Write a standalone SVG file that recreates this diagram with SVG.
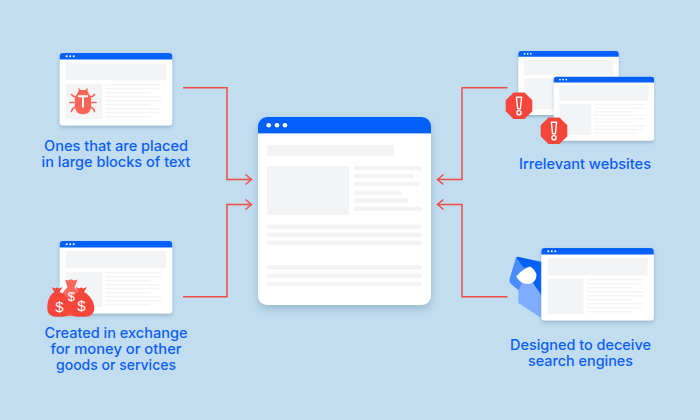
<svg xmlns="http://www.w3.org/2000/svg" width="700" height="420" viewBox="0 0 700 420">
<style>
.bg{fill:#c2ddf0}
.page{fill:#fff}
.bar{fill:#0460fb}
.blk{fill:#f3f4f6}
.ln{fill:#f3f4f6}
.sl{fill:#f4f5f7}
.dot{fill:#fff}
.red{fill:#f6453a}
.lbl{font-family:"Inter","Liberation Sans",sans-serif;font-size:14px;font-weight:500;fill:#0b60fa;text-anchor:middle}
.dol{font-family:"Liberation Sans",sans-serif;font-weight:400;font-size:15px;fill:#fff;text-anchor:middle}
.conn{fill:none;stroke:#ee4d42;stroke-width:1.5}
</style>
<defs>
<filter id="sh" x="-15%" y="-15%" width="130%" height="135%"><feDropShadow dx="0" dy="2" stdDeviation="2" flood-color="#5a7f9c" flood-opacity=".45"/></filter>
<filter id="shb" x="-15%" y="-15%" width="130%" height="135%"><feDropShadow dx="0" dy="4" stdDeviation="5" flood-color="#5a7f9c" flood-opacity=".4"/></filter>
<g id="win">
<rect class="page" x="0" y="0" width="112.5" height="72.5" rx="3" filter="url(#sh)"/>
<path class="bar" d="M0 6.5V3a3 3 0 0 1 3-3H109.500a3 3 0 0 1 3 3V6.500Z"/>
<circle class="dot" cx="7" cy="3.200" r="1"/><circle class="dot" cx="10.500" cy="3.200" r="1"/><circle class="dot" cx="14" cy="3.200" r="1"/>
<rect class="blk" x="6.300" y="10" width="100" height="17.300"/>
<rect class="blk" x="6.300" y="31" width="36" height="35"/>
<rect class="sl" x="45.500" y="31" width="56" height="1.500"/>
<rect class="sl" x="45.500" y="35" width="56" height="1.500"/>
<rect class="sl" x="45.500" y="39" width="45" height="1.500"/>
<rect class="sl" x="45.500" y="43" width="56" height="1.500"/>
<rect class="sl" x="45.500" y="47" width="56" height="1.500"/>
<rect class="sl" x="45.500" y="51" width="45" height="1.500"/>
<rect class="sl" x="45.500" y="55" width="56" height="1.500"/>
<rect class="sl" x="45.500" y="59" width="56" height="1.500"/>
<rect class="sl" x="45.500" y="63" width="45" height="1.500"/>
</g>
<polygon id="oct" class="red" points="-5.500,-13.300 5.500,-13.300 13.300,-5.500 13.300,5.500 5.500,13.300 -5.500,13.300 -13.300,5.500 -13.300,-5.500"/>
<g id="exc">
<use href="#oct"/>
<path d="M-2.600 -8.500h5.200l-1.200 11.500h-2.800Z" fill="none" stroke="#fff" stroke-width="1.400" stroke-linejoin="round"/>
<circle cx="0" cy="7" r="2.100" fill="none" stroke="#fff" stroke-width="1.400"/>
</g>
<path id="head" d="M-6 -5L0 0L-6 5" fill="none" stroke="#ee4d42" stroke-width="1.500"/>
</defs>

<rect class="bg" width="700" height="420"/>

<g id="connectors">
<path class="conn" d="M183 87.700H227V179.500H251"/><use href="#head" transform="translate(251.500 179.500)"/>
<path class="conn" d="M183 296.700H227V204.500H251"/><use href="#head" transform="translate(251.500 204.500)"/>
<path class="conn" d="M507.500 87.700H462V179.500H438"/><use href="#head" transform="translate(437.500 179.500) scale(-1 1)"/>
<path class="conn" d="M507.500 296.700H462V204.500H438"/><use href="#head" transform="translate(437.500 204.500) scale(-1 1)"/>
</g>

<g id="main">
<rect class="page" x="258" y="117" width="173" height="188" rx="9" filter="url(#shb)"/>
<path class="bar" d="M258 133.300V126a9 9 0 0 1 9-9H422a9 9 0 0 1 9 9V133.300Z"/>
<rect x="258" y="133.300" width="173" height="0.700" fill="#8db6f8"/>
<circle class="dot" cx="268.700" cy="125.300" r="2.300"/><circle class="dot" cx="277" cy="125.300" r="2.300"/><circle class="dot" cx="285" cy="125.300" r="2.300"/>
<rect class="blk" x="267" y="145" width="127" height="11" rx="1"/>
<rect class="blk" x="267" y="166" width="82" height="49" rx="1"/>
<rect class="ln" x="353.700" y="166" width="68" height="4.200" rx="1.500"/>
<rect class="ln" x="353.700" y="174" width="60.300" height="4.200" rx="1.500"/>
<rect class="ln" x="353.700" y="182" width="65" height="4.200" rx="1.500"/>
<rect class="ln" x="353.700" y="190.500" width="48" height="4.200" rx="1.500"/>
<rect class="ln" x="353.700" y="198.500" width="55" height="4.200" rx="1.500"/>
<rect class="ln" x="353.700" y="206.800" width="68" height="4.200" rx="1.500"/>
<rect class="ln" x="267" y="224.500" width="154.700" height="4.200" rx="1.500"/>
<rect class="ln" x="267" y="232.700" width="154.700" height="4.200" rx="1.500"/>
<rect class="ln" x="267" y="240.800" width="154.700" height="4.200" rx="1.500"/>
<rect class="ln" x="267" y="265.200" width="154.700" height="4.200" rx="1.500"/>
<rect class="ln" x="267" y="273.500" width="154.700" height="4.200" rx="1.500"/>
<rect class="ln" x="267" y="281.700" width="154.700" height="4.200" rx="1.500"/>
</g>

<g id="node-bug">
<use href="#win" x="59.700" y="53"/>
<g fill="none" stroke="#fb6557" stroke-width="1.600" stroke-linecap="round">
<path d="M76 97Q73 97 71.500 94.500M90 97Q93 97 94.500 94.500M74 102.500H70M92 102.500H96M76 107Q72 108 71.500 111.500M90 107Q94 108 94.500 111.500"/>
</g>
<path d="M77 94L78.500 91L78.500 87.700L80.800 90H85.200L87.500 87.700L87.500 91L89 94Z" fill="#fb6557"/>
<path d="M74.800 99Q74.800 93.500 80 93.500H86Q91.200 93.500 91.200 99V105Q91.200 114.300 83 114.300Q74.800 114.300 74.800 105Z" fill="#fb6557"/>
<path d="M78 95.300H88V97.200H84V107.500H82V97.200H78Z" fill="#fff"/>
<text class="lbl" x="116" y="150.500" textLength="144" lengthAdjust="spacingAndGlyphs">Ones that are placed</text>
<text class="lbl" x="116" y="166.700" textLength="149" lengthAdjust="spacingAndGlyphs">in large blocks of text</text>
</g>

<g id="node-money">
<use href="#win" x="59.700" y="241"/>
<path d="M65 279.500L68 280.500L71 279.300L74 280.500L77.500 279.500L74.500 287.500Q85 296 83 316H59Q57 296 67.500 287.500Z" fill="#f9695d"/>
<path class="red" d="M51.500 287L55 288.500L57 287.500L59 288.500L62.500 287L59.500 292C66 294 72 302 72 308C72 314 68 316.700 62 316.700H56C51 316.700 47.300 314 47.300 308C47.300 302 49 295 54.500 292Z"/>
<path class="red" d="M75.500 287L79 288.500L81.300 287.500L83.500 288.500L87 287L84 292C90 295 94.300 302 94.300 308C94.300 314 90 316.700 85 316.700H78C72 316.700 69 314 69 308C69 302 72.500 295 78.500 292Z"/>
<text class="dol" x="59.500" y="311.500">$</text>
<text class="dol" x="81.500" y="311">$</text>
<text class="dol" x="71.300" y="301" style="font-size:13px">$</text>
<text class="lbl" x="116" y="338" textLength="143" lengthAdjust="spacingAndGlyphs">Created in exchange</text>
<text class="lbl" x="116" y="354.300" textLength="131" lengthAdjust="spacingAndGlyphs">for money or other</text>
<text class="lbl" x="116" y="370.300" textLength="120" lengthAdjust="spacingAndGlyphs">goods or services</text>
</g>

<g id="node-irrelevant">
<use href="#win" transform="translate(518.300 51) scale(.893 .883)"/>
<use href="#win" transform="translate(553.700 76.700) scale(.893 .883)"/>
<use href="#exc" x="519" y="105.700"/>
<use href="#exc" x="554" y="130.700"/>
<text class="lbl" x="585" y="169" textLength="132" lengthAdjust="spacingAndGlyphs">Irrelevant websites</text>
</g>

<g id="node-deceive">
<path d="M509.500 282L518.300 290V303L542 318.500V262L530 262Z" fill="#7fadfd"/>
<path d="M516 257.500Q517 256.500 519 257L542 262V296L531 280L524 270Z" fill="#0460fb"/>
<path d="M516 257.500L509.500 279Q509 282.500 511 284L518.500 290L522 283L516.500 277L530 266.500L524 268Z" fill="#4a8cfb"/>
<path d="M516.300 276.500Q522 269 530.300 266.500Q536.500 271 536.500 276Q535 284 527.500 284Q520.500 284 516.300 276.500Z" fill="#fff"/>
<use href="#win" x="541.300" y="248"/>
<text class="lbl" x="580.500" y="350.300" textLength="141" lengthAdjust="spacingAndGlyphs">Designed to deceive</text>
<text class="lbl" x="580.500" y="366" textLength="105" lengthAdjust="spacingAndGlyphs">search engines</text>
</g>
</svg>
